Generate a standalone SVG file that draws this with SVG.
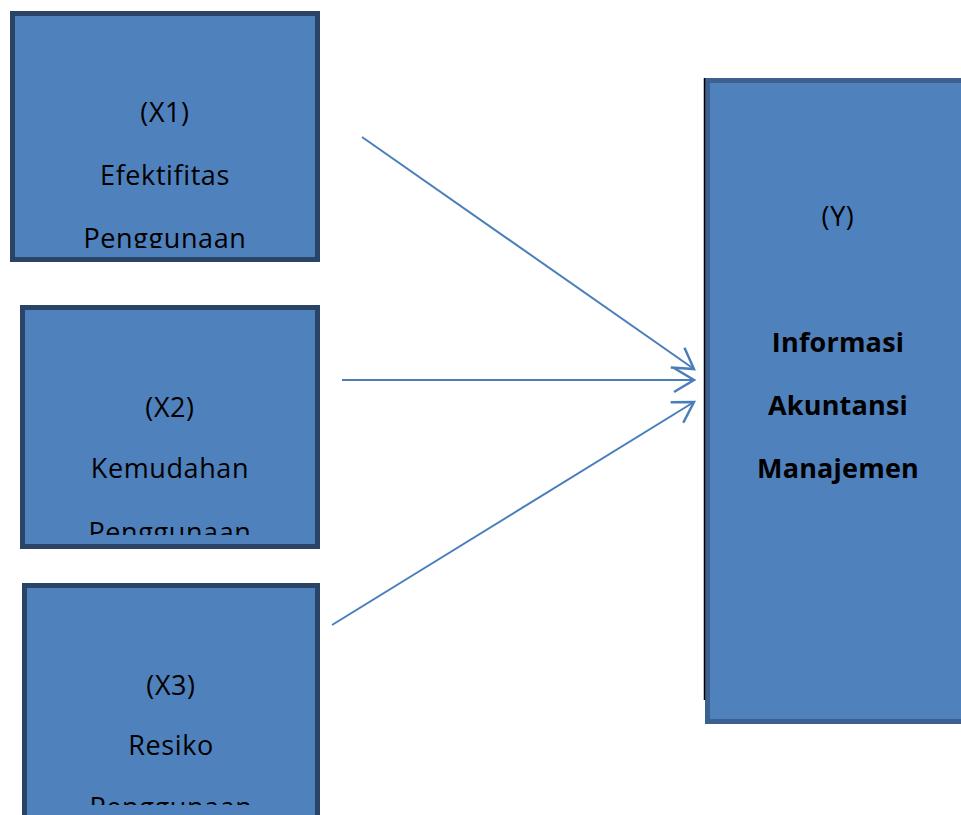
<svg xmlns="http://www.w3.org/2000/svg" width="961" height="815" viewBox="0 0 961 815">
<style>
.box{fill:#4f81bd;stroke:#2a4468;stroke-width:5}
.ybox{fill:#4f81bd;stroke:#3c6190;stroke-width:5}
.t{font-family:"Open Sans","Liberation Sans",sans-serif;font-size:27px;letter-spacing:0.6px;fill:#000;text-anchor:middle}
.b{font-weight:bold;letter-spacing:0.2px}
.con{stroke:#4a7ebb;stroke-width:2;fill:none}
</style>
<defs>
<marker id="arr" markerUnits="userSpaceOnUse" markerWidth="30" markerHeight="30" refX="22" refY="15" orient="auto">
<polyline points="2,3 22,15 2,27" fill="none" stroke="#4a7ebb" stroke-width="2.5"/>
</marker>
<clipPath id="c1"><rect x="15" y="16" width="300" height="232"/></clipPath>
<clipPath id="c2"><rect x="25" y="310" width="290" height="225"/></clipPath>
<clipPath id="c3"><rect x="27" y="588" width="288" height="217"/></clipPath>
</defs>
<g id="x1">
<rect class="box" x="12.5" y="13.5" width="305" height="246"/>
<g clip-path="url(#c1)">
<text class="t" x="165" y="122">(X1)</text>
<text class="t" x="165" y="185">Efektifitas</text>
<text class="t" x="165" y="248">Penggunaan</text>
</g>
</g>
<g id="x2">
<rect class="box" x="22.5" y="307.5" width="295" height="239"/>
<g clip-path="url(#c2)">
<text class="t" x="170" y="417">(X2)</text>
<text class="t" x="170" y="478">Kemudahan</text>
<text class="t" x="170" y="542">Penggunaan</text>
</g>
</g>
<g id="x3">
<rect class="box" x="24.5" y="585.5" width="293" height="240"/>
<g clip-path="url(#c3)">
<text class="t" x="171" y="695">(X3)</text>
<text class="t" x="171" y="755">Resiko</text>
<text class="t" x="171" y="817">Penggunaan</text>
</g>
</g>
<g id="y">
<rect class="ybox" x="707.5" y="80.5" width="270" height="641"/>
<line x1="704.5" y1="78" x2="704.5" y2="700" stroke="#000" stroke-width="1.5"/>
<text class="t" x="838" y="226">(Y)</text>
<text class="t b" x="838" y="352">Informasi</text>
<text class="t b" x="838" y="415">Akuntansi</text>
<text class="t b" x="838" y="478">Manajemen</text>
</g>
<g id="connectors">
<line class="con" x1="362" y1="137" x2="694" y2="369" marker-end="url(#arr)"/>
<line class="con" x1="342" y1="380" x2="694" y2="380" marker-end="url(#arr)"/>
<line class="con" x1="332" y1="625" x2="694" y2="402" marker-end="url(#arr)"/>
</g>
</svg>
